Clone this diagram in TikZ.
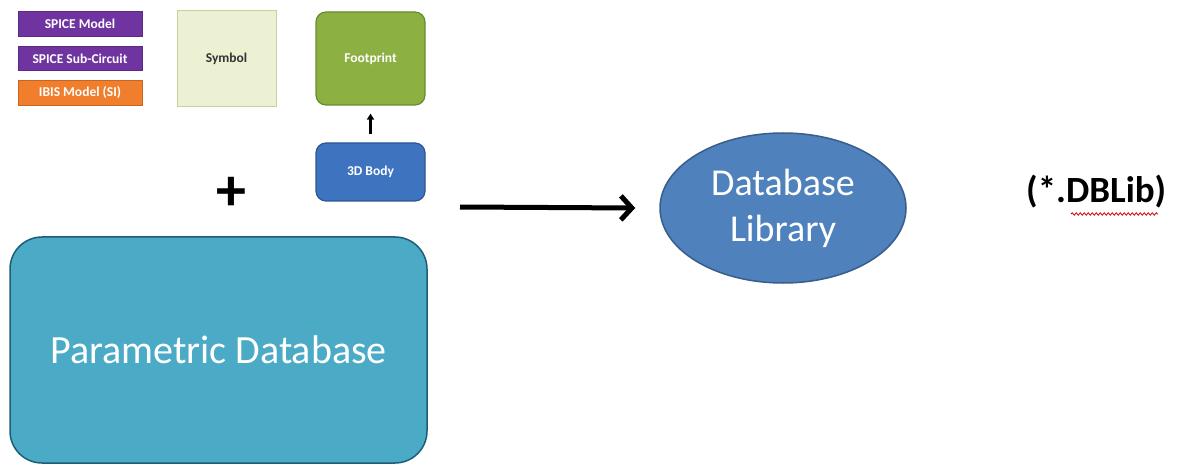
\documentclass[tikz,border=0pt]{standalone}
\usepackage{fontspec}
\setmainfont{Carlito}
\usetikzlibrary{shapes.geometric,arrows.meta,decorations.pathmorphing}
\definecolor{spice}{HTML}{7034A0}
\definecolor{spiceb}{HTML}{5A2A85}
\definecolor{ibis}{HTML}{F07E2C}
\definecolor{ibisb}{HTML}{C8651E}
\definecolor{symf}{HTML}{EBF1D2}
\definecolor{symb}{HTML}{C3D3A0}
\definecolor{fpf}{HTML}{8DB043}
\definecolor{fpb}{HTML}{6A8A30}
\definecolor{bodyf}{HTML}{3E73C0}
\definecolor{bodyb}{HTML}{2C5690}
\definecolor{paraf}{HTML}{4BAAC6}
\definecolor{parab}{HTML}{1E5D78}
\definecolor{dbf}{HTML}{4F81BD}
\definecolor{dbb}{HTML}{385D8A}
\tikzset{
  x=1pt,y=-1pt,
  lbl/.style={font=\fontsize{13.5}{15}\selectfont\bfseries},
  smallbox/.style={draw=#1,line width=1pt,inner sep=0pt,minimum width=124pt,minimum height=25pt,text=white,lbl},
  roundbox/.style={rounded corners=10pt,line width=1.2pt,inner sep=0pt,lbl},
  conn/.style={-{Straight Barb[length=11pt,width=24pt,line width=5pt]},line width=5pt,black},
}
\begin{document}
\begin{tikzpicture}
\useasboundingbox (0,0) rectangle (1189,465);
\node[smallbox=spiceb,fill=spice] (sm) at (80,24) {SPICE Model};
\node[smallbox=spiceb,fill=spice,minimum height=24pt] (ssc) at (80,59) {SPICE Sub-Circuit};
\node[smallbox=ibisb,fill=ibis] (ibis) at (80,93) {IBIS Model (SI)};
\node[draw=symb,fill=symf,line width=1pt,minimum width=99pt,minimum height=96pt,inner sep=0pt,lbl,text=black!80] (sym) at (226.5,59) {Symbol};
\node[roundbox,draw=fpb,fill=fpf,minimum width=109pt,minimum height=93pt,text=white] (fp) at (370.5,58.5) {Footprint};
\node[roundbox,draw=bodyb,fill=bodyf,minimum width=109pt,minimum height=58pt,text=white] (body) at (370.5,172) {3D Body};
\draw[-{Triangle[length=6pt,width=7pt]},line width=2.5pt] ([yshift=8pt]body.north) -- ([yshift=-8pt]fp.south);
\node[font=\fontsize{60}{60}\selectfont\bfseries,inner sep=0pt] (plus) at (231,194) {+};
\node[rounded corners=32pt,draw=parab,fill=paraf,line width=1.5pt,minimum width=417pt,minimum height=226pt,inner sep=0pt,text=white,font=\fontsize{40}{44}\selectfont] (para) at (218.5,350) {Parametric Database};
\node[ellipse,draw=dbb,fill=dbf,line width=1.5pt,minimum width=246pt,minimum height=150pt,inner sep=0pt,text=white,align=center,font=\fontsize{38}{46}\selectfont] (db) at (783,208) {Database\\Library};
\coordinate (as) at (460,207);
\draw[conn] (as) -- ([xshift=-24pt]db.west);
\node[font=\fontsize{37}{40}\selectfont\bfseries,anchor=west,inner sep=0pt] (ext) at (1026,192) {(*.DBLib)};
\draw[red!85!black,line width=0.8pt,decorate,decoration={snake,amplitude=1.2pt,segment length=4pt}] (1071,214) -- (1158,214);
\end{tikzpicture}
\end{document}
